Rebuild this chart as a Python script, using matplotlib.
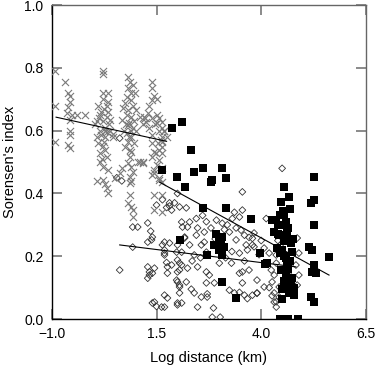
import matplotlib
matplotlib.use("Agg")
import matplotlib.pyplot as plt

plt.rcParams["font.family"] = ["Liberation Sans", "DejaVu Sans"]

# gray crosses (left group)
cross_x = [-0.93, -0.93, -0.93, -0.69, -0.62, -0.57, -0.57, -0.62, -0.64, -0.52, -0.57,
           -0.57, -0.57, -0.62, -0.57, -0.40, -0.21,
           0.21, 0.21, 0.21, 0.10, 0.31, 0.14, 0.31, 0.07, 0.21, 0.38, 0.14, 0.31,
           0.07, 0.26, 0.21, 0.14, 0.31, 0.14, 0.21, 0.33, 0.62, 0.50, 0.02, 0.26,
           0.17, 0.24, 0.35, 0.10, 0.26, 0.19, 0.36, 0.28, 0.12, 0.40, 0.45, 0.07,
           0.21, 0.31, 0.33, 0.26, 0.45, 0.24, 0.17, 0.21, 0.33, 0.33,
           0.81, 0.86, 0.93, 0.81, 0.90, 0.98, 0.79, 0.90, 0.74, 0.93, 0.69, 0.81,
           1.02, 0.79, 0.90, 0.67, 0.81, 0.93, 0.79, 0.90, 0.81, 0.74, 0.90, 0.86,
           0.81, 0.90, 0.93, 0.86, 0.90, 0.86, 0.86, 0.81, 0.90, 0.93, 0.93, 0.88,
           0.85, 0.95, 0.76, 1.00, 0.72, 0.84, 0.96, 0.86, 1.05, 1.10, 1.17, 0.67,
           1.38, 1.38, 1.40, 1.50, 1.45, 1.33, 1.29, 1.52, 1.38, 1.26, 1.50, 1.64,
           1.33, 1.57, 1.64, 1.40, 1.62, 1.40, 1.64, 1.45, 1.64, 1.40, 1.57, 1.50,
           1.64, 1.45, 1.40, 1.62, 1.64, 1.55, 1.47, 1.60, 1.53, 1.69, 1.74, 1.22,
           1.17, 1.10, 1.48, 1.57, 1.21, 1.62, 1.69, 1.17, 1.45, 1.45, 1.57, 1.64,
           1.45, 1.55]
cross_y = [0.79, 0.68, 0.565, 0.755, 0.72, 0.71, 0.69, 0.675, 0.655, 0.65, 0.634,
           0.60, 0.586, 0.554, 0.545, 0.65, 0.65,
           0.79, 0.78, 0.72, 0.68, 0.68, 0.65, 0.645, 0.63, 0.63, 0.634, 0.60, 0.597,
           0.58, 0.58, 0.55, 0.53, 0.516, 0.50, 0.485, 0.475, 0.465, 0.45, 0.62, 0.61,
           0.66, 0.67, 0.66, 0.56, 0.54, 0.51, 0.62, 0.60, 0.64, 0.60, 0.59, 0.44,
           0.443, 0.418, 0.40, 0.43, 0.58, 0.565, 0.585, 0.70, 0.72, 0.69,
           0.77, 0.755, 0.745, 0.735, 0.72, 0.72, 0.707, 0.697, 0.688, 0.68, 0.672, 0.666,
           0.666, 0.65, 0.643, 0.634, 0.618, 0.608, 0.592, 0.58, 0.564, 0.548, 0.532, 0.516,
           0.497, 0.484, 0.468, 0.452, 0.44, 0.433, 0.395, 0.37, 0.357, 0.347, 0.325, 0.60,
           0.625, 0.63, 0.62, 0.60, 0.60, 0.58, 0.56, 0.54, 0.50, 0.50, 0.50, 0.48,
           0.755, 0.735, 0.697, 0.70, 0.71, 0.68, 0.655, 0.65, 0.64, 0.628, 0.624, 0.627,
           0.608, 0.60, 0.61, 0.586, 0.58, 0.56, 0.548, 0.532, 0.528, 0.516, 0.506, 0.49,
           0.48, 0.475, 0.458, 0.395, 0.34, 0.64, 0.62, 0.57, 0.56, 0.60, 0.58, 0.64,
           0.62, 0.643, 0.53, 0.54, 0.643, 0.564, 0.60, 0.497, 0.395, 0.347, 0.443, 0.436,
           0.465, 0.45]

# open diamonds (middle group)
diam_x = [0.62, 0.93, 1.05, 1.29, 1.36, 1.40, 1.38, 1.29, 0.93, 1.69, 1.69, 1.29,
          1.33, 1.33, 1.29, 1.45, 1.40, 1.64, 1.69, 1.69, 1.74, 1.76, 1.98, 2.00,
          2.10, 2.05, 1.98, 2.05, 2.05, 2.00, 1.45, 1.62, 1.69, 1.50, 1.86, 2.05,
          2.10, 2.12, 2.17, 1.81, 1.74, 0.62, 0.55, 0.67, 1.50, 1.64, 2.00,
          3.55, 1.93, 2.21, 1.81, 2.45, 2.29, 2.24, 2.69, 2.93, 3.07, 3.36, 3.55,
          3.48, 3.31, 3.19, 3.24, 3.40, 3.52, 3.60, 3.71, 3.79, 2.48, 2.64, 2.45,
          2.17, 1.81, 2.00, 2.29, 2.57, 2.10, 2.40, 2.64, 2.69, 3.40, 3.64, 3.83,
          3.48, 3.67, 3.29, 3.00, 1.86, 2.05, 1.76, 2.00, 2.24, 2.48, 2.69, 2.76,
          3.55, 3.71, 3.48, 2.00, 2.21, 2.69, 2.88, 3.55, 2.05, 2.40, 2.71, 3.36,
          3.60, 3.79, 1.76, 2.10, 2.48, 2.86, 2.83, 3.02,
          4.12, 3.83, 3.79, 4.07, 4.36, 4.19, 4.86, 4.90, 4.83, 4.36, 4.24, 4.31,
          3.90, 4.26, 4.07, 4.43, 3.90, 4.31, 4.43, 4.31, 4.36, 4.86, 4.90, 4.67,
          4.50, 1.40, 1.69, 2.00, 2.33, 2.57, 2.71, 3.24, 3.48, 3.67, 3.90, 4.19,
          4.26, 4.36, 3.00, 3.12, 2.90, 3.15, 3.30, 2.55, 2.35, 2.80, 3.95, 4.00,
          4.45, 4.55, 4.40, 3.60, 2.95, 2.60]
diam_y = [0.156, 0.293, 0.293, 0.306, 0.28, 0.261, 0.252, 0.245, 0.229, 0.245, 0.21, 0.166,
          0.15, 0.14, 0.13, 0.162, 0.146, 0.236, 0.22, 0.204, 0.18, 0.166, 0.213, 0.188,
          0.172, 0.156, 0.124, 0.108, 0.083, 0.051, 0.054, 0.038, 0.038, 0.04, 0.347, 0.357,
          0.309, 0.293, 0.261, 0.37, 0.355, 0.576, 0.45, 0.44, 0.363, 0.38, 0.40,
          0.405, 0.37, 0.354, 0.36, 0.32, 0.309, 0.293, 0.31, 0.315, 0.305, 0.34, 0.347,
          0.325, 0.32, 0.30, 0.277, 0.29, 0.283, 0.267, 0.26, 0.257, 0.29, 0.277, 0.267,
          0.258, 0.242, 0.236, 0.236, 0.236, 0.213, 0.204, 0.245, 0.213, 0.252, 0.236, 0.23,
          0.21, 0.22, 0.178, 0.178, 0.172, 0.178, 0.146, 0.15, 0.162, 0.166, 0.15, 0.14,
          0.15, 0.156, 0.146, 0.118, 0.118, 0.115, 0.115, 0.115, 0.102, 0.083, 0.07, 0.083,
          0.076, 0.076, 0.067, 0.051, 0.038, 0.035, 0.006, 0.006,
          0.32, 0.274, 0.236, 0.226, 0.204, 0.21, 0.258, 0.21, 0.172, 0.178, 0.156, 0.14,
          0.124, 0.118, 0.102, 0.102, 0.083, 0.083, 0.07, 0.054, 0.038, 0.108, 0.14, 0.14,
          0.48, 0.051, 0.076, 0.045, 0.095, 0.070, 0.080, 0.092, 0.085, 0.065, 0.082, 0.100,
          0.074, 0.055, 0.265, 0.285, 0.255, 0.195, 0.215, 0.195, 0.185, 0.29, 0.205, 0.25,
          0.235, 0.265, 0.25, 0.185, 0.265, 0.33]

# black squares (right group)
sq_x = [1.86, 2.12, 1.62, 2.00, 2.33, 2.40, 2.60, 3.07, 2.83, 2.81, 5.26, 2.17,
        3.17, 4.55, 4.67, 4.48, 5.26, 5.19, 2.60, 3.17, 4.55, 4.36, 4.60, 5.26,
        3.76, 4.31, 4.43, 4.62, 3.07, 2.88, 3.00, 3.07, 2.71, 4.71, 4.50, 4.74,
        5.14, 5.21, 5.62, 4.60, 4.62, 4.48, 4.14, 4.10, 5.26, 5.31, 5.21, 4.74,
        3.07, 4.60, 4.79, 4.50, 4.67, 4.79, 5.19, 5.26, 3.40, 4.45, 4.65, 4.88,
        4.56, 2.05, 3.05, 4.40, 4.50, 4.55, 4.60, 4.45, 4.65, 4.55, 4.65, 4.55,
        4.70, 4.60, 4.40, 4.70, 3.00, 3.12, 2.93, 4.26, 4.45, 4.71, 3.98, 4.50,
        4.76, 4.38, 4.68, 4.52]
sq_y = [0.61, 0.627, 0.475, 0.452, 0.538, 0.468, 0.48, 0.48, 0.443, 0.436, 0.452, 0.42,
        0.45, 0.42, 0.389, 0.373, 0.379, 0.369, 0.354, 0.354, 0.331, 0.315, 0.309, 0.30,
        0.32, 0.277, 0.267, 0.277, 0.261, 0.236, 0.22, 0.204, 0.204, 0.242, 0.22, 0.213,
        0.229, 0.22, 0.197, 0.194, 0.172, 0.156, 0.18, 0.176, 0.172, 0.146, 0.15, 0.13,
        0.118, 0.102, 0.10, 0.095, 0.083, 0.076, 0.07, 0.054, 0.067, 0.0, 0.0, 0.0,
        0.0, 0.252, 0.245, 0.30, 0.30, 0.25, 0.26, 0.33, 0.29, 0.20, 0.16, 0.12,
        0.12, 0.14, 0.27, 0.35, 0.26, 0.23, 0.27, 0.315, 0.21, 0.105, 0.21, 0.065,
        0.255, 0.225, 0.185, 0.345]

# fitted lines (end points)
fit_a_x = [-0.90, 1.74]
fit_a_y = [0.643, 0.566]
fit_b_x = [1.57, 5.62]
fit_b_y = [0.436, 0.140]
fit_c_x = [0.62, 4.83]
fit_c_y = [0.236, 0.166]

xticks = [-1.0, 1.5, 4.0, 6.5]
yticks = [0.0, 0.2, 0.4, 0.6, 0.8, 1.0]

fig = plt.figure(figsize=(3.76, 3.65), dpi=100)
ax = fig.add_axes([0.138, 0.126, 0.835, 0.860])

ax.scatter(diam_x, diam_y, marker="D", s=12, facecolors="none",
           edgecolors="#333333", linewidths=0.6, zorder=2)
ax.scatter(cross_x, cross_y, marker="x", s=26, color="#7a7a7a",
           linewidths=0.8, zorder=3)
ax.plot(fit_a_x, fit_a_y, color="black", lw=0.8, zorder=4)
ax.plot(fit_b_x, fit_b_y, color="black", lw=0.8, zorder=4)
ax.plot(fit_c_x, fit_c_y, color="black", lw=0.8, zorder=4)
ax.scatter(sq_x, sq_y, marker="s", s=38, color="black", linewidths=0, zorder=5)

ax.set_xlim(-1.0, 6.5)
ax.set_ylim(0.0, 1.0)
ax.set_xticks(xticks)
ax.set_yticks(yticks)
ax.set_xticklabels(["\u22121.0", "1.5", "4.0", "6.5"])
ax.set_yticklabels(["%.1f" % v for v in yticks])
ax.tick_params(direction="in", length=7, width=1.2, color="#777777",
               top=True, right=True, labelsize=10, pad=6)

for side in ["top", "right"]:
    ax.spines[side].set_color("#666666")
for side in ["left", "bottom"]:
    ax.spines[side].set_color("black")
for s in ax.spines.values():
    s.set_linewidth(1.0)

ax.set_xlabel("Log distance (km)", fontsize=10.5, labelpad=7)
ax.set_ylabel("Sorensen's index", fontsize=10.5, labelpad=5)

fig.savefig("out.png", dpi=100)
